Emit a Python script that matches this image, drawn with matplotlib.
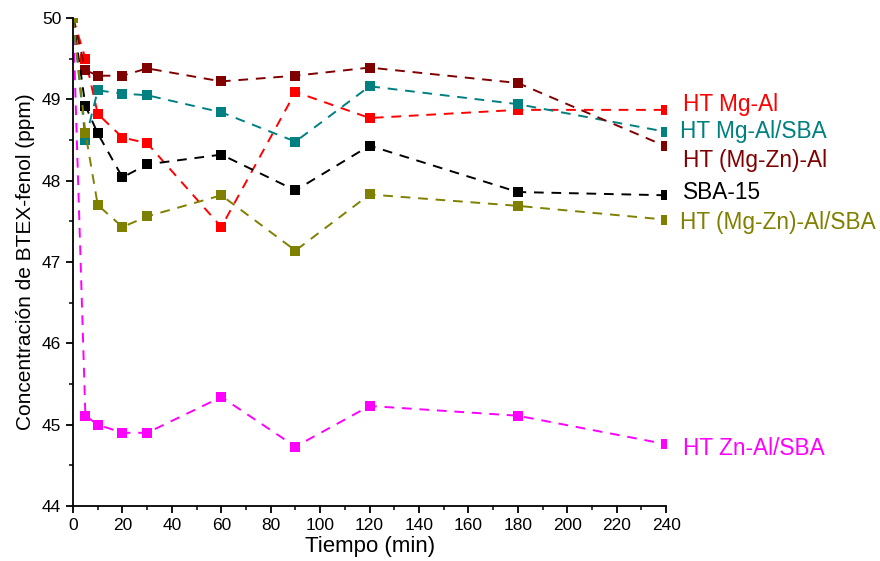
import matplotlib.pyplot as plt
from matplotlib.ticker import MultipleLocator

plt.rcParams['font.family'] = ['Liberation Sans', 'DejaVu Sans']

tiempo = [0, 5, 10, 20, 30, 60, 90, 120, 180, 240]

mg_al = [50.0, 49.50, 48.82, 48.53, 48.46, 47.43, 49.09, 48.77, 48.87, 48.87]
mg_al_sba = [50.0, 48.50, 49.11, 49.07, 49.05, 48.84, 48.48, 49.16, 48.94, 48.60]
mgzn_al = [50.0, 49.36, 49.29, 49.29, 49.38, 49.22, 49.29, 49.39, 49.20, 48.42]
sba15 = [50.0, 48.92, 48.58, 48.04, 48.20, 48.32, 47.88, 48.43, 47.86, 47.82]
mgzn_al_sba = [50.0, 48.59, 47.70, 47.43, 47.56, 47.82, 47.14, 47.83, 47.69, 47.52]
zn_al_sba = [50.0, 45.11, 45.00, 44.90, 44.90, 45.34, 44.73, 45.23, 45.11, 44.76]

# (name, values, colour, label y in data units, label x)
series = [
    ('HT Zn-Al/SBA', zn_al_sba, '#FF00FF', 44.71, 247),
    ('HT Mg-Al', mg_al, '#FF0000', 48.94, 247),
    ('HT Mg-Al/SBA', mg_al_sba, '#008080', 48.61, 245.6),
    ('HT (Mg-Zn)-Al', mgzn_al, '#800000', 48.25, 247),
    ('SBA-15', sba15, '#000000', 47.86, 247),
    ('HT (Mg-Zn)-Al/SBA', mgzn_al_sba, '#808000', 47.49, 245.6),
]

fig = plt.figure(figsize=(8.8, 5.61), dpi=100)
ax = fig.add_axes([0.083, 0.098, 0.674, 0.870])

for name, vals, color, ly, lx in series:
    ax.plot(tiempo, vals, color=color, linestyle=(0, (5, 4)), linewidth=1.4,
            marker='s', markersize=7.5, markeredgewidth=0)
    ax.text(lx, ly, name, color=color, fontsize=16.3, va='center', ha='left',
            clip_on=False)

ax.set_xlim(0, 240)
ax.set_ylim(44, 50)
ax.xaxis.set_major_locator(MultipleLocator(20))
ax.xaxis.set_minor_locator(MultipleLocator(10))
ax.yaxis.set_major_locator(MultipleLocator(1))
ax.yaxis.set_minor_locator(MultipleLocator(0.5))

ax.spines['top'].set_visible(False)
ax.spines['right'].set_visible(False)
for s in ('left', 'bottom'):
    ax.spines[s].set_linewidth(1.3)

ax.tick_params(which='major', direction='out', length=5, width=1.3, labelsize=12.5)
ax.tick_params(which='minor', direction='out', length=3, width=1.1)

ax.set_xlabel('Tiempo (min)', fontsize=16, labelpad=2)
ax.set_ylabel('Concentración de BTEX-fenol (ppm)', fontsize=15, labelpad=5)

plt.savefig('out.png', dpi=100)
